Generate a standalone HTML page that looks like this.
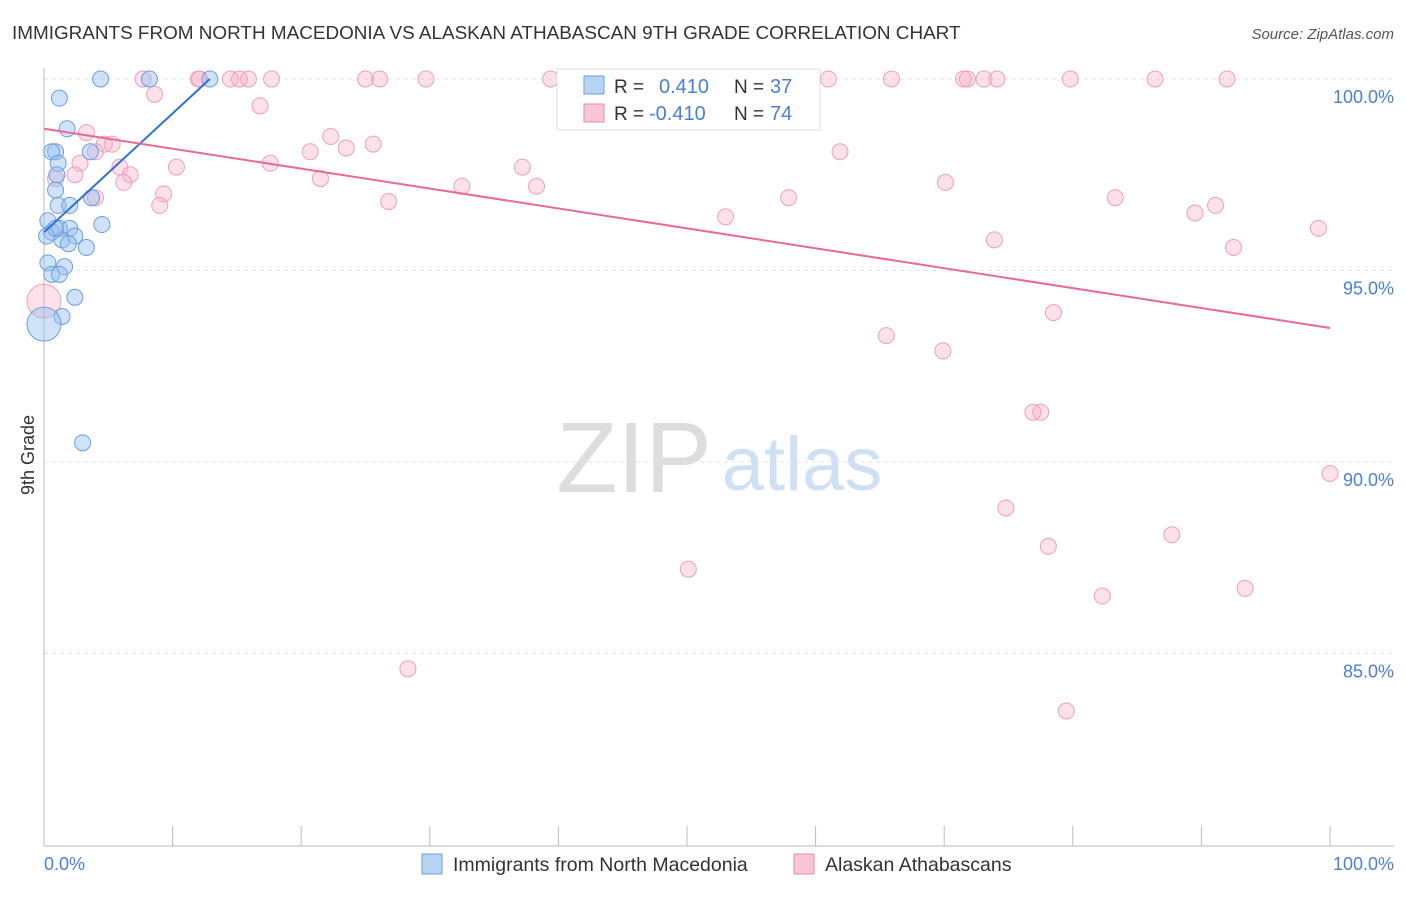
<!DOCTYPE html>
<html><head><meta charset="utf-8"><style>
body{margin:0;background:#fff;font-family:"Liberation Sans",sans-serif;}
svg text{font-family:"Liberation Sans",sans-serif;}
</style></head><body>
<svg width="1406" height="892" xmlns="http://www.w3.org/2000/svg">
<text x="12" y="39" font-size="18.9" fill="#333">IMMIGRANTS FROM NORTH MACEDONIA VS ALASKAN ATHABASCAN 9TH GRADE CORRELATION CHART</text>
<text x="1394" y="39" font-size="15" fill="#555" text-anchor="end" font-style="italic">Source: ZipAtlas.com</text>
<text x="634" y="492" font-size="100" fill="#ddd" font-family="Liberation Serif" text-anchor="middle">ZIP</text>
<text x="802" y="490" font-size="76" fill="#cfe0f5" text-anchor="middle">atlas</text>
<g id="grid"></g>
<g id="axes"></g>
<text transform="translate(34,455) rotate(-90)" font-size="18" fill="#333" text-anchor="middle">9th Grade</text>
<text x="44" y="870" font-size="18" fill="#4a7fd4">0.0%</text>
<text x="1394" y="870" font-size="18" fill="#4a7fd4" text-anchor="end">100.0%</text>
<g id="pts"></g>
<g id="trends"></g>
<g>
<rect x="557" y="69" width="263" height="61" fill="#fff" stroke="#ddd"/>
<rect x="584" y="76" width="20" height="18" fill="#b8d4f4" stroke="#6a9fe0"/>
<text x="614" y="93" font-size="19" fill="#333">R = </text><text x="659" y="93" font-size="20" fill="#4a7fd4">0.410</text>
<text x="734" y="93" font-size="19" fill="#333">N = </text><text x="770" y="93" font-size="20" fill="#4a7fd4">37</text>
<rect x="584" y="104" width="20" height="18" fill="#f9c6d6" stroke="#e88aa8"/>
<text x="614" y="120" font-size="19" fill="#333">R = </text><text x="649" y="120" font-size="20" fill="#4a7fd4">-0.410</text>
<text x="734" y="120" font-size="19" fill="#333">N = </text><text x="770" y="120" font-size="20" fill="#4a7fd4">74</text>
</g>
<g>
<rect x="422" y="854" width="20" height="20" fill="#b8d4f4" stroke="#6a9fe0"/>
<text x="453" y="871" font-size="19.5" fill="#333">Immigrants from North Macedonia</text>
<rect x="794" y="854" width="20" height="20" fill="#f9c6d6" stroke="#e88aa8"/>
<text x="825" y="871" font-size="19.5" fill="#333">Alaskan Athabascans</text>
</g>
</svg>
<script>
const blueX=[4.4,8.2,12.9,1.2,1.8,0.9,0.6,3.6,1.1,1.0,0.9,1.1,2.0,0.3,1.2,2.0,0.6,0.2,1.4,2.4,4.5,1.9,3.3,0.3,1.6,0.6,1.2,2.4,1.4,0,3.0,3.7,0.9];
const blueY=[100,100,100,99.5,98.7,98.1,98.1,98.1,97.8,97.5,97.1,96.7,96.7,96.3,96.1,96.1,96.0,95.9,95.8,95.9,96.2,95.7,95.6,95.2,95.1,94.9,94.9,94.3,93.8,93.6,90.5,96.9,96.1];
const blueBig=[29];
const pinkX=[7.7,12.1,12.0,14.5,15.2,15.9,17.7,25.0,26.1,29.7,39.4,41.3,61.0,65.9,71.5,71.8,73.1,74.1,79.8,86.4,92.0,8.6,16.8,3.3,22.3,4.0,4.7,5.3,23.5,25.6,20.7,61.9,2.8,5.9,10.3,17.6,37.2,0.9,2.4,6.7,6.2,21.5,32.5,38.3,70.1,9.3,4.0,9.0,26.8,57.9,83.3,53.0,91.1,89.5,99.1,73.9,92.5,0,78.5,65.5,69.9,77.5,76.9,100,74.8,78.1,87.7,50.1,82.3,93.4,28.3,79.5];
const pinkY=[100,100,100,100,100,100,100,100,100,100,100,100,100,100,100,100,100,100,100,100,100,99.6,99.3,98.6,98.5,98.1,98.3,98.3,98.2,98.3,98.1,98.1,97.8,97.7,97.7,97.8,97.7,97.4,97.5,97.5,97.3,97.4,97.2,97.2,97.3,97.0,96.9,96.7,96.8,96.9,96.9,96.4,96.7,96.5,96.1,95.8,95.6,94.2,93.9,93.3,92.9,91.3,91.3,89.7,88.8,87.8,88.1,87.2,86.5,86.7,84.6,83.5];
const pinkBig=[57];
const blueTrend=[[0,96.0],[12.9,100]];
const pinkTrend=[[0,98.7],[100,93.5]];
const yTicks=[100,95,90,85];
const yTickLabels=["100.0%","95.0%","90.0%","85.0%"];
const xTicks=[0,10,20,30,40,50,60,70,80,90,100];
const NS="http://www.w3.org/2000/svg";
const sx=v=>44+v*12.86, sy=v=>79+(100-v)*38.3;
function mk(t,a,p){const e=document.createElementNS(NS,t);for(const k in a)e.setAttribute(k,a[k]);p.appendChild(e);return e;}
const grid=document.getElementById('grid'),axes=document.getElementById('axes'),pts=document.getElementById('pts'),tr=document.getElementById('trends');
yTicks.forEach((v,i)=>{
 const l=mk('line',{x1:44,x2:1394,y1:sy(v),y2:sy(v),stroke:'#e3e3e3','stroke-dasharray':'4,4'},grid);
 
 
 const t=mk('text',{x:1394,y:sy(v)+24,'font-size':18,fill:'#4a7fd4','text-anchor':'end'},grid);
 t.textContent=yTickLabels[i];
 
 
});
const xa=mk('line',{x1:44,x2:1394,y1:846,y2:846,stroke:'#bbb'},axes);


const ya=mk('line',{x1:44,x2:44,y1:68,y2:846,stroke:'#bbb'},axes);


xTicks.forEach(v=>{
 const t=mk('line',{x1:sx(v),x2:sx(v),y1:826,y2:846,stroke:'#bbb'},axes);
 
 
});
pinkX.forEach((x,i)=>{
 const c=mk('circle',{cx:sx(x),cy:sy(pinkY[i]),r:pinkBig.includes(i)?17:8,fill:'rgba(245,170,196,0.35)',stroke:'#eda0b9','stroke-width':1},pts);
 
 
});
blueX.forEach((x,i)=>{
 const c=mk('circle',{cx:sx(x),cy:sy(blueY[i]),r:blueBig.includes(i)?17:8,fill:'rgba(150,190,240,0.45)',stroke:'#6a9fe0','stroke-width':1},pts);
 
 
});
const bt=mk('line',{x1:sx(blueTrend[0][0]),y1:sy(blueTrend[0][1]),x2:sx(blueTrend[1][0]),y2:sy(blueTrend[1][1]),stroke:'#2f6fd6','stroke-width':2},tr);


const pt=mk('line',{x1:sx(pinkTrend[0][0]),y1:sy(pinkTrend[0][1]),x2:sx(pinkTrend[1][0]),y2:sy(pinkTrend[1][1]),stroke:'#e8699a','stroke-width':2},tr);


</script>
</body></html>
